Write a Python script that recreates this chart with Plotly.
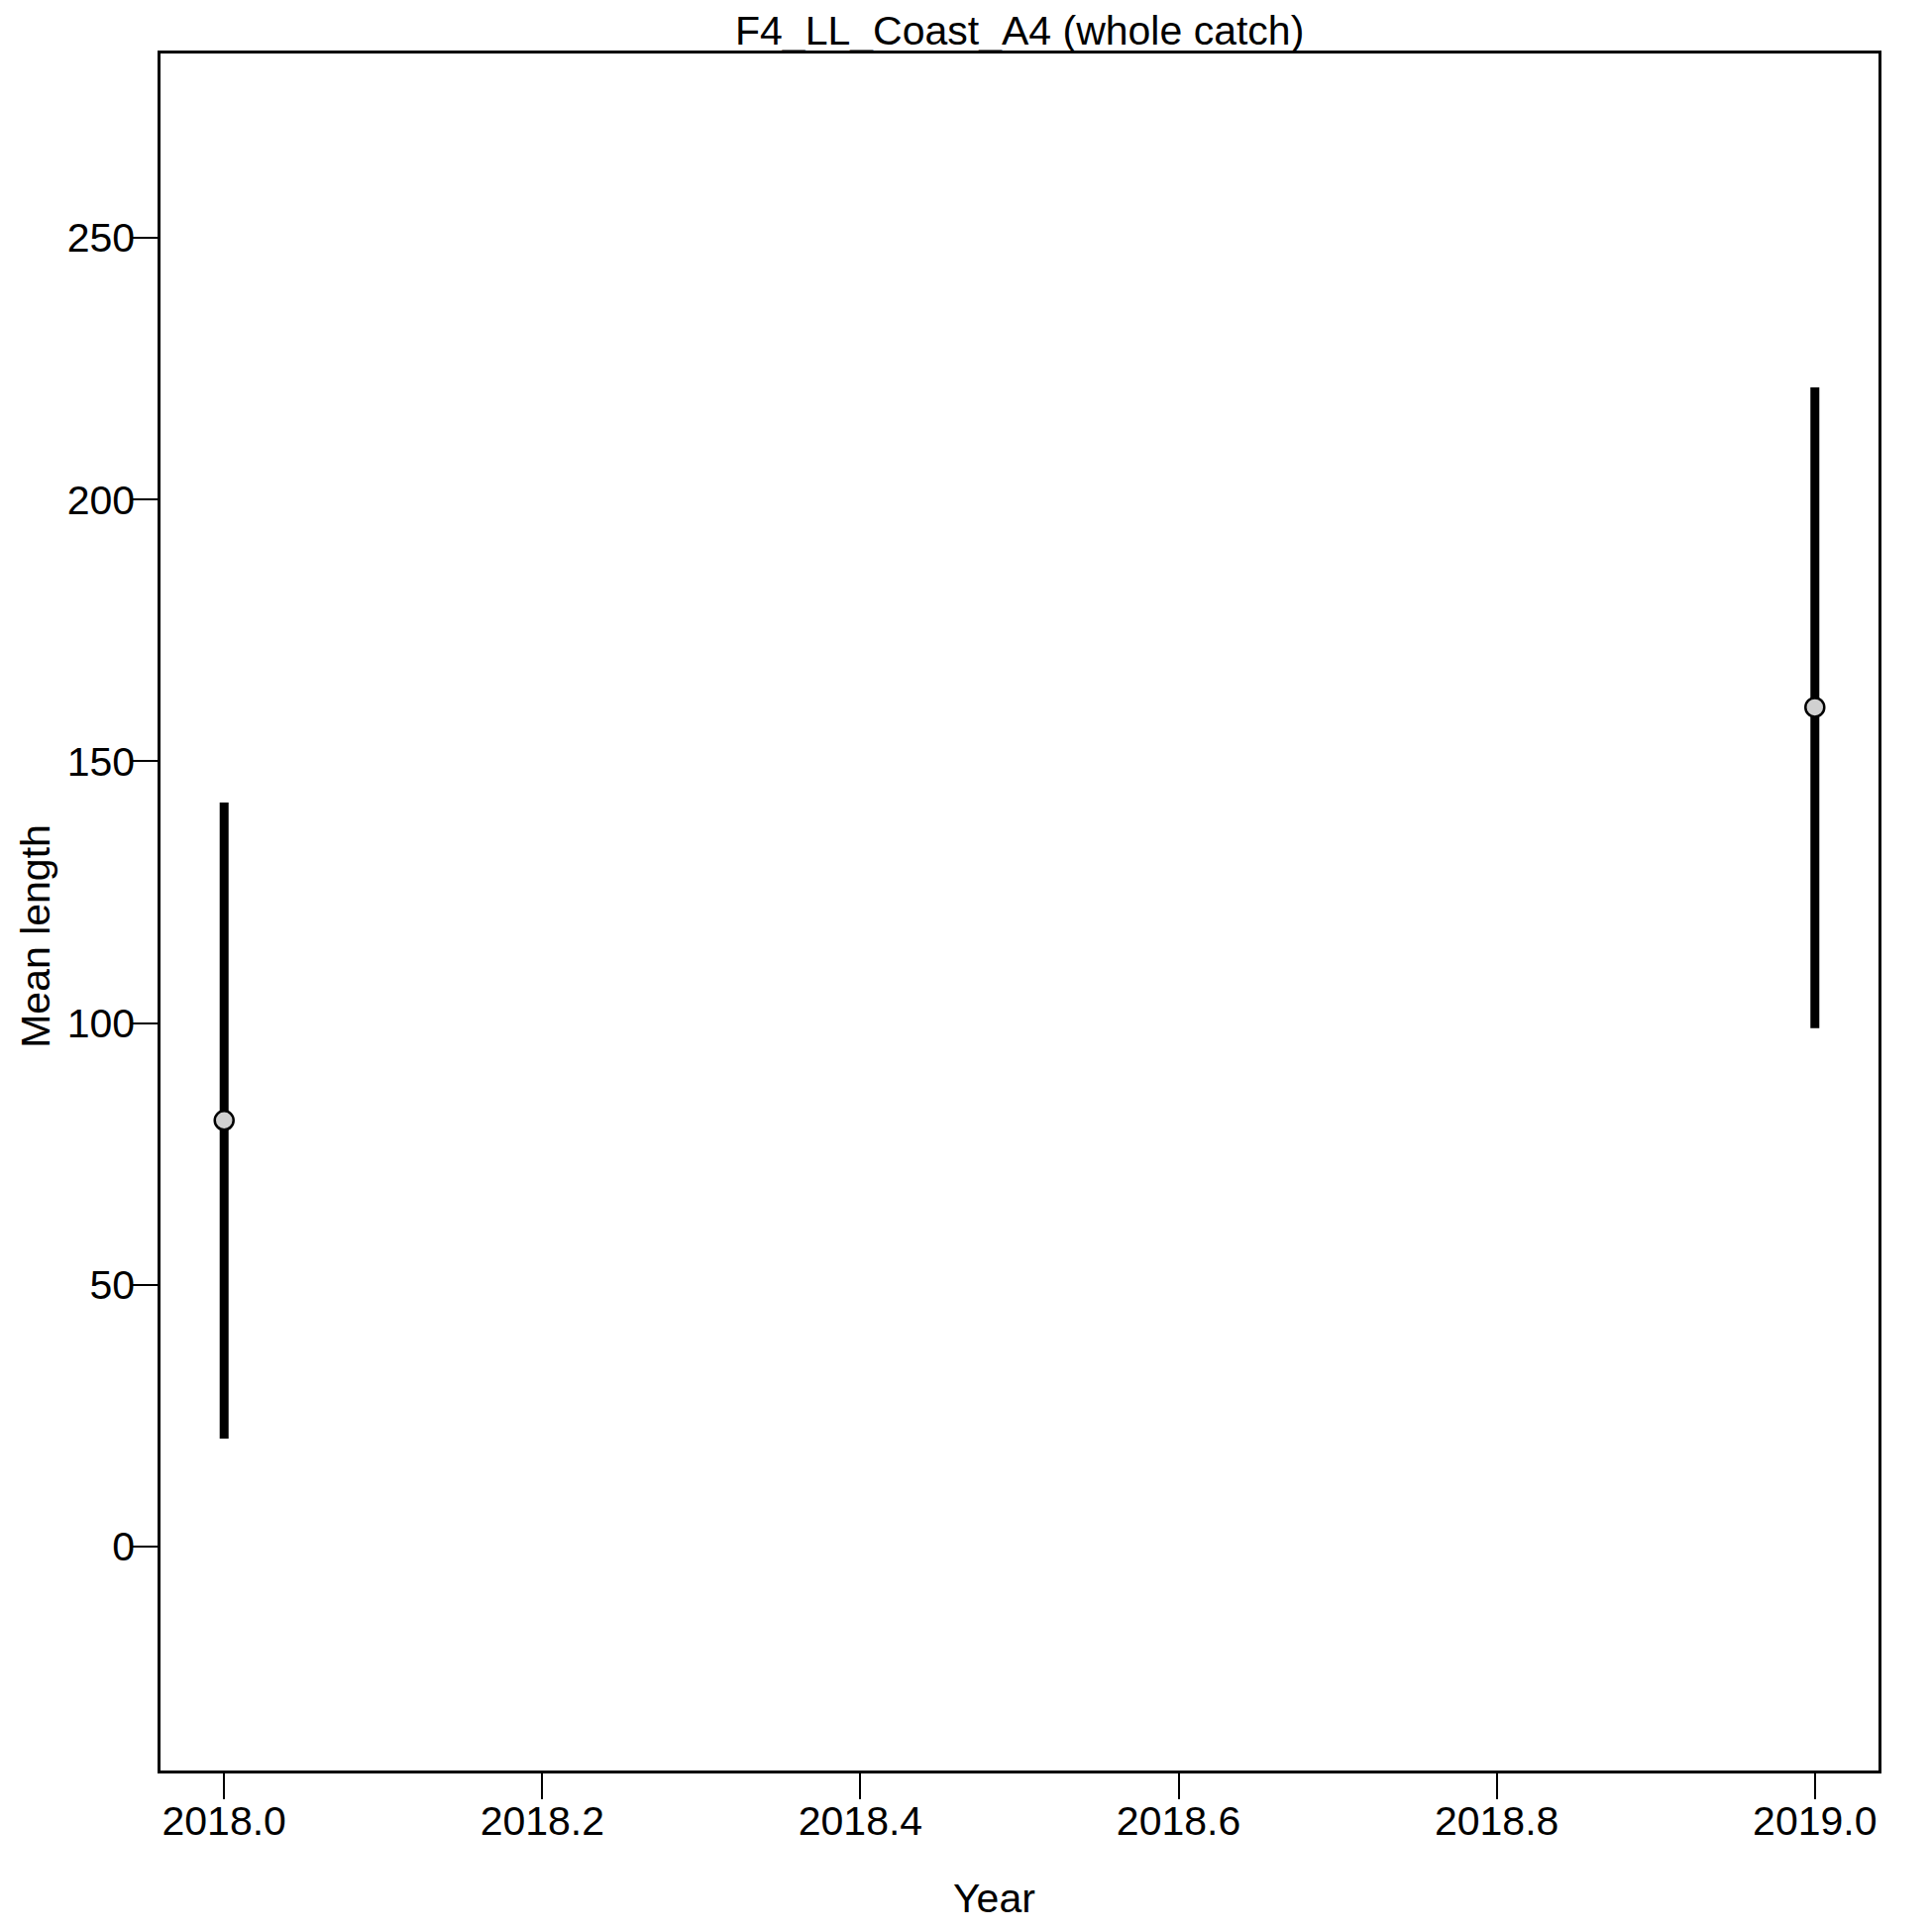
import plotly.graph_objects as go

# ---- data ----
years = [2018.0, 2019.0]
mean_length = [81.4, 160.3]
ci_upper = [142.1, 221.4]
ci_lower = [20.6, 99.0]

x_ticks = [2018.0, 2018.2, 2018.4, 2018.6, 2018.8, 2019.0]
x_ticklabels = ["2018.0", "2018.2", "2018.4", "2018.6", "2018.8", "2019.0"]
y_ticks = [0, 50, 100, 150, 200, 250]
y_ticklabels = ["0", "50", "100", "150", "200", "250"]

title_text = "F4_LL_Coast_A4 (whole catch)"
x_title = "Year"
y_title = "Mean length"

FONT = "Liberation Sans, Arial, sans-serif"
FS = 41

err_plus = [u - m for u, m in zip(ci_upper, mean_length)]
err_minus = [m - l for m, l in zip(mean_length, ci_lower)]

fig = go.Figure()
fig.add_trace(go.Scatter(
    x=years, y=mean_length, mode="markers",
    marker=dict(size=19, color="#d0d0d0", line=dict(color="black", width=2.5)),
    error_y=dict(type="data", symmetric=False, array=err_plus, arrayminus=err_minus,
                 color="black", thickness=9, width=0),
    showlegend=False, hoverinfo="skip",
))

W = H = 1950
BODY = 8  # default page body margin offset
# target plot box in page pixels
PL, PT, PR, PB = 162, 54, 1896, 1787
pw, ph = PR - PL, PB - PT
ml, mt = PL - BODY, PT - BODY
mr = W - ml - pw
mb = H - mt - ph

def px_x(px):
    return (px - PL) / pw

def px_y(py):
    return (PB - py) / ph

fig.update_layout(
    width=W, height=H,
    margin=dict(l=ml, r=mr, t=mt, b=mb, pad=0),
    paper_bgcolor="white", plot_bgcolor="white",
    font=dict(family=FONT, size=FS, color="black"),
    xaxis=dict(range=[2017.96, 2019.04], tickvals=x_ticks, ticktext=x_ticklabels,
               showgrid=False, zeroline=False, showline=True, linecolor="black",
               linewidth=2.5, mirror=True, ticks="outside", ticklen=26, tickwidth=2,
               tickcolor="black", tickfont=dict(family=FONT, size=FS, color="black"),
               ticklabelstandoff=-13),
    yaxis=dict(range=[-42.8, 285.2], tickvals=y_ticks, ticktext=y_ticklabels,
               showgrid=False, zeroline=False, showline=True, linecolor="black",
               linewidth=2.5, mirror=True, ticks="outside", ticklen=25, tickwidth=2,
               tickcolor="black", tickfont=dict(family=FONT, size=FS, color="black"),
               ticklabelstandoff=-10),
    annotations=[
        dict(text=title_text, xref="paper", yref="paper", x=px_x(1028.5), y=px_y(30.8),
             xanchor="center", yanchor="middle", showarrow=False,
             font=dict(family=FONT, size=FS, color="black")),
        dict(text=x_title, xref="paper", yref="paper", x=px_x(1003.3), y=px_y(1915.8),
             xanchor="center", yanchor="middle", showarrow=False,
             font=dict(family=FONT, size=FS, color="black")),
        dict(text=y_title, xref="paper", yref="paper", x=px_x(35.8), y=px_y(945),
             xanchor="center", yanchor="middle", showarrow=False, textangle=-90,
             font=dict(family=FONT, size=FS, color="black")),
    ],
)

fig.write_html("out.html")
